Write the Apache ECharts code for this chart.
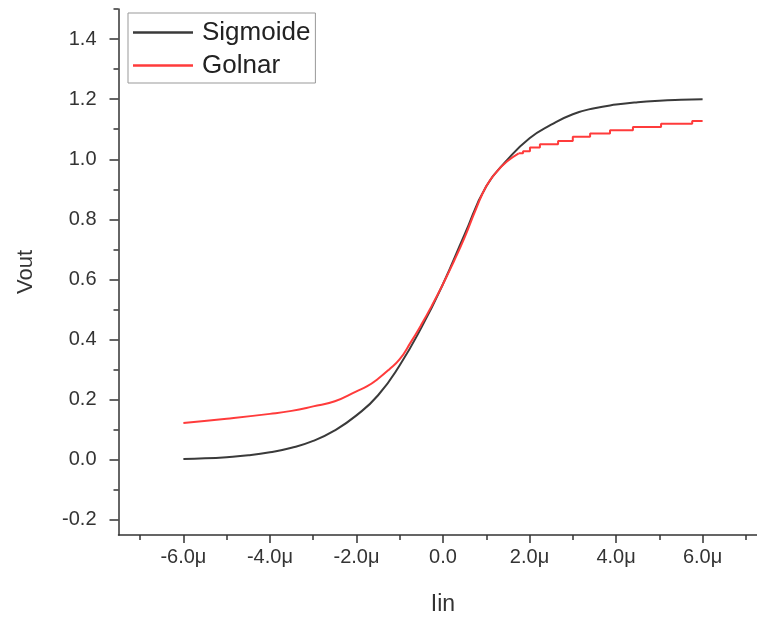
<!DOCTYPE html>
<html>
<head>
<meta charset="utf-8">
<script src="https://cdn.jsdelivr.net/npm/echarts@6/dist/echarts.min.js"></script>
<style>
html,body{margin:0;padding:0;background:#fff;}
#chart{width:757px;height:617px;}
</style>
</head>
<body>
<div id="chart"></div>
<script>
// ---- data ----
var sigX = [-6,-5.5,-5,-4.5,-4,-3.5,-3,-2.5,-2,-1.5,-1,-0.5,0,0.5,1,1.5,2,2.5,3,3.5,4,4.5,5,5.5,6];
var sigY = [0.003,0.005,0.009,0.015,0.025,0.040,0.063,0.098,0.148,0.215,0.315,0.44,0.585,0.75,0.91,1.00,1.07,1.115,1.15,1.17,1.182,1.19,1.195,1.198,1.2];

var golX = [-6,-5,-4,-3.5,-3,-2.5,-2,-1.75,-1.5,-1.25,-1,-0.75,-0.5,-0.25,0,0.25,0.5,0.75,1,1.25,1.5,1.75];
var golY = [0.123,0.137,0.153,0.163,0.178,0.195,0.228,0.245,0.27,0.30,0.335,0.39,0.45,0.515,0.585,0.66,0.74,0.83,0.91,0.96,0.995,1.02];
var stairX = [1.85,2.01,2.24,2.66,3.0,3.4,3.86,4.39,5.04,5.76];
var stairY = [1.027,1.039,1.05,1.061,1.075,1.086,1.097,1.107,1.118,1.127];
var golEndX = 6;

var yMajorTicks = [-0.2,0,0.2,0.4,0.6,0.8,1.0,1.2,1.4];
var yMinorTicks = [-0.1,0.1,0.3,0.5,0.7,0.9,1.1,1.3,1.5];
var xMajorTicks = [-6,-4,-2,0,2,4,6];
var xMinorTicks = [-7,-5,-3,-1,1,3,5,7];

// ---- build series pairs ----
var sigData = sigX.map(function(x,i){return [x, sigY[i]];});
var golData = golX.map(function(x,i){return [x, golY[i]];});
var prev = golY[golY.length-1];
var stairData = [[golX[golX.length-1], prev]];
stairX.forEach(function(x,i){
  stairData.push([x, prev]);
  stairData.push([x, stairY[i]]);
  prev = stairY[i];
});
stairData.push([golEndX, prev]);

var axisColor = '#333';
var font = 'Liberation Sans, Arial, sans-serif';
var blackC = '#3a3a3a', redC = '#ff3b3b';

var chart = echarts.init(document.getElementById('chart'), null, {renderer:'canvas'});
chart.setOption({
  backgroundColor:'#fff',
  animation:false,
  grid:{left:118.5, top:9, width:649, height:526, outerBoundsMode:'none', containLabel:false},
  legend:{
    orient:'vertical', left:128, top:13,
    data:['Sigmoide','Golnar'],
    icon:'rect',
    borderColor:'#999', borderWidth:1,
    padding:[6.5,5,4.5,5],
    itemWidth:60, itemHeight:2.5, itemGap:7,
    textStyle:{fontSize:26, color:'#222', fontFamily:font, padding:[0,0,0,4]}
  },
  xAxis:[
    {type:'value', min:-7.5, max:7.5, position:'bottom',
     name:'Iin', nameLocation:'middle', nameGap:58,
     nameTextStyle:{fontSize:23, color:'#333', fontFamily:font},
     axisLine:{onZero:false, lineStyle:{color:axisColor, width:1.5}},
     axisTick:{customValues:xMajorTicks, length:8, lineStyle:{color:axisColor, width:1.5}},
     axisLabel:{customValues:xMajorTicks, margin:12, fontSize:20, color:'#333', fontFamily:font,
       formatter:function(v){ return v===0 ? '0.0' : v.toFixed(1)+'μ'; }},
     splitLine:{show:false}},
    {type:'value', min:-7.5, max:7.5, position:'bottom',
     axisLine:{show:false, onZero:false},
     axisTick:{customValues:xMinorTicks, length:5, lineStyle:{color:axisColor, width:1.5}},
     axisLabel:{show:false}, splitLine:{show:false}}
  ],
  yAxis:[
    {type:'value', min:-0.25, max:1.5, position:'left',
     name:'Vout', nameLocation:'middle', nameGap:82,
     nameTextStyle:{fontSize:22, color:'#333', fontFamily:font},
     axisLine:{show:true, onZero:false, lineStyle:{color:axisColor, width:1.5}},
     axisTick:{customValues:yMajorTicks, length:9, lineStyle:{color:axisColor, width:1.5}},
     axisLabel:{customValues:yMajorTicks, margin:22, fontSize:20, color:'#333', fontFamily:font,
       formatter:function(v){ return v.toFixed(1); }},
     splitLine:{show:false}},
    {type:'value', min:-0.25, max:1.5, position:'left',
     axisLine:{show:false, onZero:false},
     axisTick:{customValues:yMinorTicks, length:5, lineStyle:{color:axisColor, width:1.5}},
     axisLabel:{show:false}, splitLine:{show:false}}
  ],
  series:[
    {name:'Sigmoide', type:'line', xAxisIndex:0, yAxisIndex:0, data:sigData,
     smooth:true, symbol:'none', lineStyle:{color:blackC, width:2}, itemStyle:{color:blackC}},
    {name:'Golnar', type:'line', xAxisIndex:0, yAxisIndex:0, data:golData,
     smooth:true, symbol:'none', lineStyle:{color:redC, width:2}, itemStyle:{color:redC}},
    {name:'Golnar', type:'line', xAxisIndex:0, yAxisIndex:0, data:stairData,
     smooth:false, symbol:'none', lineStyle:{color:redC, width:2}, itemStyle:{color:redC}}
  ]
});
</script>
</body>
</html>
